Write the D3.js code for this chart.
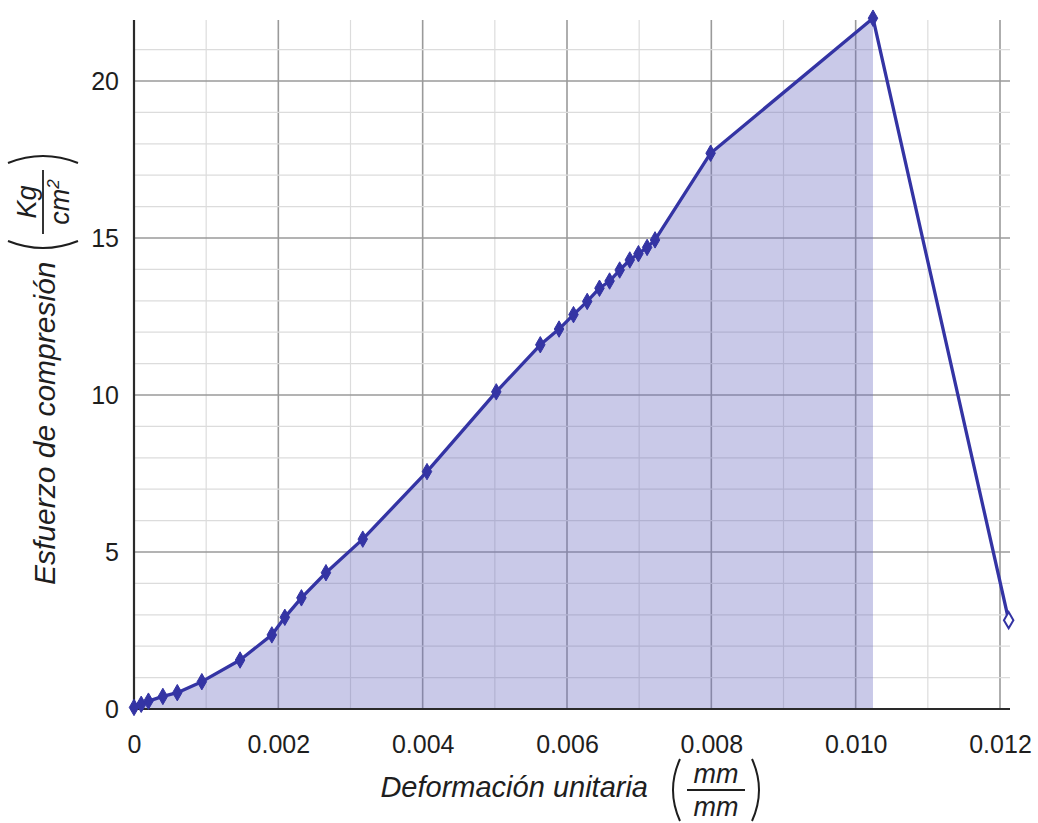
<!DOCTYPE html>
<html>
<head>
<meta charset="utf-8">
<script src="https://cdn.jsdelivr.net/npm/d3@7"></script>
<style>
  html, body { margin: 0; padding: 0; background: #fff; }
  svg { display: block; font-family: "Liberation Sans", Arial, sans-serif; }
</style>
</head>
<body>
<svg id="chart" width="1038" height="823"></svg>
<script>
// Compression test: strain (mm/mm) vs. compressive stress (kg/cm²)
const strain = [0, 0.0001, 0.0002, 0.0004, 0.0006, 0.00094, 0.00147, 0.00191, 0.00209, 0.00232,
                0.00266, 0.00317, 0.00406, 0.00502, 0.00563, 0.00589, 0.00609, 0.00628, 0.00645,
                0.00659, 0.00673, 0.00687, 0.00699, 0.00711, 0.00722, 0.00799, 0.01024, 0.01212];
const stress = [0.05, 0.15, 0.25, 0.40, 0.52, 0.87, 1.56, 2.36, 2.92, 3.54,
                4.34, 5.41, 7.56, 10.10, 11.60, 12.10, 12.56, 12.98, 13.40,
                13.63, 13.98, 14.30, 14.50, 14.70, 14.94, 17.70, 22.00, 2.83];
const xTicks = [0, 0.002, 0.004, 0.006, 0.008, 0.010, 0.012];
const xTickLabels = ["0", "0.002", "0.004", "0.006", "0.008", "0.010", "0.012"];
const yTicks = [0, 5, 10, 15, 20];

const points = strain.map((s, i) => ({ x: s, y: stress[i] }));
const peakIndex = d3.maxIndex(points, d => d.y);

const svg = d3.select("#chart");
const x = d3.scaleLinear().domain([0, 0.012]).range([134, 1000]);
const y = d3.scaleLinear().domain([0, 22]).range([709, 18.2]);

const lineColor = "#3434a4";
const textColor = "#1e1e1e";

// Grid: minor every 0.001 / 1 unit, major every 0.002 / 5 units
const grid = svg.append("g");
const vLines = d3.range(1, 13).map(i => i * 0.001);
const hLines = d3.range(1, 22);
grid.selectAll("line.v").data(vLines).join("line")
  .attr("x1", d => x(d)).attr("x2", d => x(d))
  .attr("y1", 20).attr("y2", y(0))
  .attr("stroke", (d, i) => (i + 1) % 2 === 0 ? "#9a9a9a" : "#dcdcdc")
  .attr("stroke-width", (d, i) => (i + 1) % 2 === 0 ? 1.6 : 1.2);
grid.selectAll("line.h").data(hLines).join("line")
  .attr("x1", x(0)).attr("x2", 1010)
  .attr("y1", d => y(d)).attr("y2", d => y(d))
  .attr("stroke", d => d % 5 === 0 ? "#9a9a9a" : "#dcdcdc")
  .attr("stroke-width", d => d % 5 === 0 ? 1.6 : 1.2);

// Shaded area under the curve up to the peak
const areaPts = points.slice(0, peakIndex + 1);
svg.append("path")
  .datum(areaPts)
  .attr("d", d3.area().x(d => x(d.x)).y0(y(0)).y1(d => y(d.y)))
  .attr("fill", "#6a6ac0")
  .attr("fill-opacity", 0.36);

// Axis lines
svg.append("line").attr("x1", x(0)).attr("x2", 1010).attr("y1", y(0)).attr("y2", y(0))
  .attr("stroke", "#2a2a2a").attr("stroke-width", 2.2);
svg.append("line").attr("x1", x(0)).attr("x2", x(0)).attr("y1", 20).attr("y2", y(0))
  .attr("stroke", "#2a2a2a").attr("stroke-width", 2.2);

// Tick labels via d3 axes (no domain/tick lines)
const xAxis = svg.append("g")
  .attr("transform", `translate(0,${y(0)})`)
  .call(d3.axisBottom(x).tickValues(xTicks).tickFormat((d, i) => xTickLabels[i]).tickSize(0).tickPadding(26));
xAxis.select(".domain").remove();
xAxis.selectAll("text").attr("font-size", 25).attr("fill", textColor)
  .attr("font-family", "Liberation Sans, Arial, sans-serif");

const yAxis = svg.append("g")
  .attr("transform", `translate(119,0)`)
  .call(d3.axisLeft(y).tickValues(yTicks).tickFormat(d3.format("d")).tickSize(0).tickPadding(0));
yAxis.select(".domain").remove();
yAxis.selectAll("text").attr("font-size", 25).attr("fill", textColor)
  .attr("font-family", "Liberation Sans, Arial, sans-serif");

// Curve
svg.append("path")
  .datum(points)
  .attr("d", d3.line().x(d => x(d.x)).y(d => y(d.y)))
  .attr("fill", "none")
  .attr("stroke", lineColor)
  .attr("stroke-width", 3.3)
  .attr("stroke-linejoin", "round");

// Markers
const diamond = d3.symbol().type(d3.symbolDiamond).size(78);
svg.selectAll("path.mark").data(points).join("path")
  .attr("class", "mark")
  .attr("d", diamond)
  .attr("transform", d => `translate(${x(d.x)},${y(d.y)})`)
  .attr("fill", (d, i) => i === points.length - 1 ? "#fff" : lineColor)
  .attr("stroke", lineColor)
  .attr("stroke-width", (d, i) => i === points.length - 1 ? 2 : 1);

// Bracketed fraction helper for unit labels
function fraction(g, num, den, width, fs, ph) {
  g.append("text").attr("x", 0).attr("y", -7).attr("text-anchor", "middle")
    .attr("font-size", fs).attr("font-style", "italic").attr("fill", textColor).html(num);
  g.append("line").attr("x1", -width / 2).attr("x2", width / 2).attr("y1", 0).attr("y2", 0)
    .attr("stroke", textColor).attr("stroke-width", 1.8);
  g.append("text").attr("x", 0).attr("y", fs * 0.95).attr("text-anchor", "middle")
    .attr("font-size", fs).attr("font-style", "italic").attr("fill", textColor).html(den);
  const pw = width / 2 + 16;
  g.append("path").attr("d", `M${-pw + 9},${-ph} Q${-pw - 5},0 ${-pw + 9},${ph}`)
    .attr("fill", "none").attr("stroke", textColor).attr("stroke-width", 2);
  g.append("path").attr("d", `M${pw - 9},${-ph} Q${pw + 5},0 ${pw - 9},${ph}`)
    .attr("fill", "none").attr("stroke", textColor).attr("stroke-width", 2);
}

// X axis title
svg.append("text").attr("x", 648).attr("y", 797).attr("text-anchor", "end")
  .attr("font-size", 29).attr("font-style", "italic").attr("fill", textColor)
  .text("Deformación unitaria");
fraction(svg.append("g").attr("transform", "translate(716,790)"), "mm", "mm", 58, 27, 31);

// Y axis title (rotated)
const yt = svg.append("g").attr("transform", "translate(55,0) rotate(-90)");
yt.append("text").attr("x", -585).attr("y", 0).attr("text-anchor", "start")
  .attr("font-size", 30).attr("font-style", "italic").attr("fill", textColor)
  .text("Esfuerzo de compresión");
fraction(svg.append("g").attr("transform", "translate(43,202) rotate(-90)"),
  "Kg", "cm<tspan dy='-10' font-size='17'>2</tspan>", 64, 27, 35);
</script>
</body>
</html>
